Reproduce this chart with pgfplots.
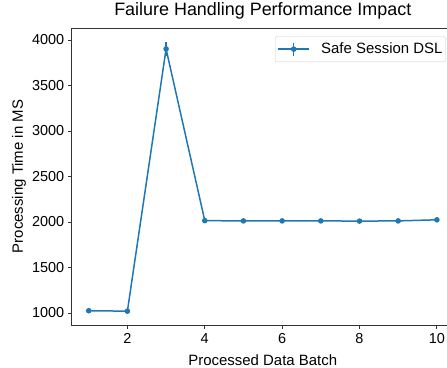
\documentclass[border=0pt]{standalone}
\usepackage{pgfplots}
\pgfplotsset{compat=1.18}
\usepackage{fontspec}
\setmainfont{Liberation Sans}
\definecolor{c0}{HTML}{1F77B4}
\begin{document}
\begin{tikzpicture}[x=1bp,y=1bp]
\begin{axis}[
  at={(0,0)}, anchor=south west,
  scale only axis, width=383bp, height=297bp,
  xmin=0.55, xmax=10.45, ymin=868, ymax=4132,
  xtick={2,4,6,8,10}, ytick={1000,1500,2000,2500,3000,3500,4000},
  tick align=outside, tick pos=left,
  major tick length=3.5bp,
  every tick/.style={black!80, line width=0.8bp},
  /pgf/number format/assume math mode=true,
  /pgf/number format/1000 sep={},
  tick label style={font=\fontsize{14.5}{16}\selectfont},
  xticklabel style={anchor=base, yshift=-15bp},
  title={Failure Handling Performance Impact},
  title style={font=\fontsize{18}{20}\selectfont, at={([yshift=7bp]rel axis cs:0.5,1)}, anchor=base},
  xlabel={Processed Data Batch}, ylabel={Processing Time in MS},
  label style={font=\fontsize{15}{17}\selectfont},
  xlabel style={at={([yshift=-40bp]rel axis cs:0.5,0)}, anchor=base},
  ylabel style={at={([xshift=-48.3bp]rel axis cs:0,0.5)}, anchor=base},
  axis line style={black!80, line width=0.8bp},
  legend style={at={(0.9775,0.972)}, anchor=north east, font=\fontsize{15}{17}\selectfont, draw=black!20, rounded corners=2bp, inner xsep=1bp, inner ysep=4.5bp},
  legend cell align=left,
  legend image code/.code={
    \path[draw=none, fill=none] (-2bp,0bp) rectangle (41bp,0.1bp);
    \draw[c0, line width=1.5bp] (0bp,0bp) -- (31bp,0bp);
    \draw[c0, line width=1.5bp] (15.5bp,-6.5bp) -- (15.5bp,6.5bp);
    \fill[c0] (15.5bp,0bp) circle (2bp);
  },
]
\addplot[color=c0, line width=1.5bp, mark=*, mark size=2bp,
  error bars/.cd, y dir=both, y explicit, error bar style={line width=1.5bp}, error mark=none]
  table[x=x, y=y, y error=e] {
x y e
1 1025 8
2 1020 8
3 3902 77
4 2015 8
5 2012 8
6 2012 8
7 2012 8
8 2010 8
9 2012 8
10 2024 8
};
\legend{Safe Session DSL}
\end{axis}
\pgfresetboundingbox
\path (-71.3bp,-43bp) rectangle (375.7bp,325bp);
\end{tikzpicture}
\end{document}
